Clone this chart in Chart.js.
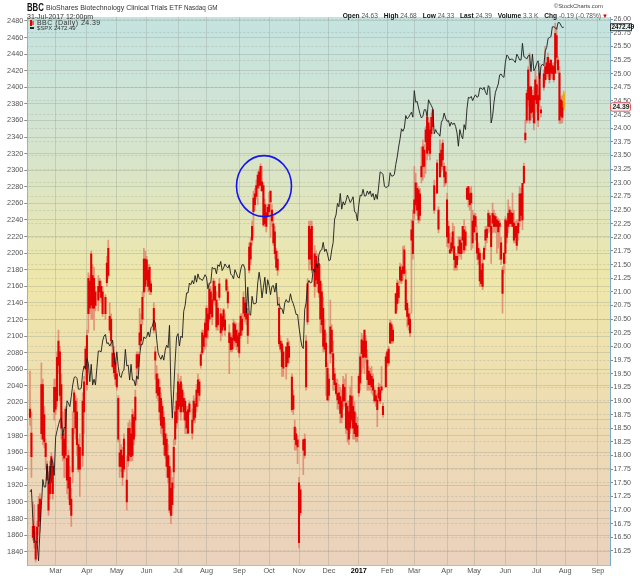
<!DOCTYPE html>
<html><head><meta charset="utf-8">
<script src="https://cdn.jsdelivr.net/npm/chart.js@4.4.1/dist/chart.umd.min.js"></script>
<style>
html,body{margin:0;padding:0;background:#fff;}
#wrap{position:relative;width:640px;height:576px;overflow:hidden;font-family:"Liberation Sans",Arial,sans-serif;}
canvas{position:absolute;left:0;top:0;}
.t{position:absolute;white-space:nowrap;line-height:1;}
.hd b{color:#111;font-weight:bold;margin-left:4px;}
.hd span{color:#555;}
</style></head><body>
<div id="wrap">
<canvas id="c" width="640" height="576"></canvas>
<div class="t" style="left:27px;top:1.5px;font-size:10.5px;font-weight:bold;color:#111;transform:scaleX(0.74);transform-origin:left top;">BBC</div>
<div class="t" style="left:46px;top:4.2px;font-size:7px;color:#333;">BioShares Biotechnology Clinical Trials ETF</div>
<div class="t" style="left:184px;top:4.6px;font-size:6.3px;color:#333;">Nasdaq GM</div>
<div class="t" style="left:27px;top:12.8px;font-size:7px;color:#333;">31-Jul-2017 12:00pm</div>
<div class="t" style="right:37px;top:3.5px;font-size:5.9px;color:#444;">©StockCharts.com</div>
<div class="t hd" style="right:32px;top:12.9px;font-size:6.6px;"><b>Open</b> <span>24.63</span> <b>High</b> <span>24.68</span> <b>Low</b> <span>24.33</span> <b>Last</b> <span>24.39</span> <b>Volume</b> <span>3.3 K</span> <b>Chg</b> <span>-0.19 (-0.78%)</span><span style="color:#d00000;font-size:6px;margin-left:1px;">▼</span></div>
<div style="position:absolute;left:30px;top:20px;width:1.5px;height:6px;background:#e00000;"></div>
<div style="position:absolute;left:32px;top:21px;width:1.5px;height:4px;background:#e86050;"></div>
<div class="t" style="left:37px;top:19.2px;font-size:7px;letter-spacing:0.45px;color:#333;">BBC (Daily) 24.39</div>
<div style="position:absolute;left:30px;top:27.3px;width:4px;height:1.3px;background:#222;"></div>
<div class="t" style="left:37px;top:25.4px;font-size:6px;color:#333;">$SPX 2472.49</div>
</div>
<script>
// Trading-day index 0 = 2016-02-03 ... index 375 = 2017-07-31
const spxClose = [
1912,1915,1880,1854,1852,1851,1829,1865,1896,1927,1918,1918,1946,1922,1929,1952,1948,1932,
1978,1986,1993,1999,2001,1980,1990,1989,2022,2019,2015,2027,2041,2050,2051,2049,2036,2036,2037,2056,2064,2060,
2073,2067,2045,2066,2041,2048,2041,2062,2082,2082,2081,2094,2100,2102,2091,2092,2088,2091,2095,2075,2065,
2081,2063,2052,2050,2057,2059,2084,2064,2065,2047,2066,2047,2047,2040,2052,2048,2076,2090,2090,2099,2097,
2099,2105,2099,2110,2112,2119,2116,2096,2080,2075,2072,2077,2071,2083,2089,2086,2113,2037,2001,2036,2071,2099,
2103,2088,2100,2098,2130,2137,2152,2152,2164,2162,2167,2163,2173,2165,2175,2169,2169,2167,2170,2174,
2171,2157,2164,2164,2183,2181,2182,2175,2186,2184,2190,2179,2182,2187,2184,2182,2186,2175,2173,2169,2180,2176,2171,
2170,2180,2186,2186,2181,2128,2159,2127,2125,2148,2139,2139,2140,2164,2177,2165,2146,2159,2171,2151,2168,
2161,2150,2160,2161,2153,2164,2137,2139,2133,2133,2127,2140,2144,2141,2141,2151,2143,2139,2133,2126,2126,
2111,2098,2088,2085,2132,2140,2163,2167,2164,2165,2181,2177,2188,2182,2198,2203,2204,2213,2202,2205,2199,
2191,2192,2204,2213,2241,2246,2260,2256,2272,2253,2262,2258,2263,2270,2266,2261,2264,2268,2250,2249,2239,
2258,2270,2269,2277,2269,2269,2275,2271,2275,2268,2272,2264,2271,2265,2281,2298,2297,2295,2281,2279,
2280,2281,2297,2293,2293,2295,2307,2316,2328,2338,2350,2347,2351,2366,2362,2364,2367,2370,2364,
2396,2382,2383,2375,2368,2363,2365,2373,2373,2365,2385,2381,2378,2374,2344,2349,2345,2344,2341,2358,2361,2369,2363,
2359,2360,2353,2358,2355,2357,2353,2345,2329,2349,2342,2338,2355,2349,2374,2388,2387,2389,2384,
2388,2391,2388,2389,2399,2399,2397,2400,2394,2391,2402,2400,2357,2365,2382,2394,2399,2404,2415,2416,2413,2412,
2430,2439,2437,2433,2434,2434,2432,2430,2440,2437,2433,2433,2453,2437,2436,2434,2438,2439,2419,2440,2420,2423,
2429,2432,2410,2425,2428,2426,2444,2448,2459,2460,2461,2473,2473,2472,2470,2478,2478,2475,2472,2472.49
];

const bbcLow = [
18.55,17.60,16.45,16.30,16.05,16.30,16.55,16.60,18.30,18.20,
18.15,17.75,17.50,16.90,17.20,17.30,17.20,18.65,18.75,18.90,
19.50,19.00,18.30,17.90,17.60,17.60,17.30,17.20,17.00,16.70,
17.50,18.40,18.30,18.00,17.70,17.25,null,17.80,18.40,19.40,
19.20,20.25,20.60,20.50,20.50,20.30,20.65,null,20.65,20.90,
20.80,20.55,null,20.50,21.10,21.25,20.25,20.00,19.60,19.45,
19.30,19.20,18.25,17.60,17.70,17.45,17.70,null,17.00,17.80,
17.90,17.90,17.90,18.20,18.35,19.30,19.50,19.95,20.00,20.40,
20.90,21.00,21.15,21.00,20.95,20.95,null,20.25,19.40,19.05,
19.00,18.65,18.40,18.35,18.00,17.95,17.60,17.50,16.95,16.75,
16.90,17.40,18.20,18.50,18.65,18.80,18.65,18.80,18.65,18.40,
18.40,18.40,18.75,null,18.30,18.60,18.60,18.80,18.90,19.00,
19.60,19.85,19.90,19.95,20.00,20.15,20.45,20.50,20.40,20.80,
20.75,20.30,20.30,20.85,20.10,20.20,20.30,20.20,21.00,20.70,
19.50,19.90,19.90,19.95,20.00,19.94,19.90,19.80,20.15,20.20,
20.50,20.45,20.40,20.05,21.35,21.50,21.85,22.00,22.50,22.70,
22.60,22.90,22.85,22.85,22.20,22.20,22.10,22.35,22.45,22.00,
22.20,21.85,21.60,21.40,21.30,20.00,19.90,19.45,19.45,null,
19.40,19.65,19.70,null,18.80,18.75,18.10,18.10,17.85,16.30,
16.90,null,17.65,17.95,19.20,20.40,21.40,21.50,21.35,null,
20.90,21.10,21.00,20.90,20.25,20.25,19.90,19.90,19.10,19.00,
19.00,19.70,19.80,19.20,19.20,19.10,18.85,18.85,18.60,18.60,
18.85,18.90,18.40,18.25,18.20,18.40,18.60,18.30,18.30,18.25,
18.25,19.08,19.20,19.50,19.60,19.50,19.70,19.20,19.20,19.20,
19.14,19.10,18.96,18.90,18.53,19.00,18.95,19.15,18.70,null,
19.26,19.63,19.65,20.06,20.05,20.06,null,20.60,20.67,20.80,
21.16,21.15,21.22,21.30,20.67,20.36,20.30,20.18,20.61,21.60,
22.32,22.56,22.40,22.26,22.30,23.00,23.05,23.10,23.17,23.42,
23.50,23.42,23.85,23.97,22.44,null,22.81,22.08,23.11,23.20,
23.24,22.93,22.95,21.83,21.80,21.71,21.70,21.71,21.40,21.40,
21.40,21.59,21.65,21.60,21.71,21.71,21.75,22.69,22.56,22.50,
21.77,21.80,22.08,21.95,21.59,21.50,21.10,21.10,21.04,21.59,
21.77,21.90,22.08,22.10,21.52,22.08,22.10,22.08,21.71,21.80,
21.59,21.50,20.61,21.34,21.52,21.90,22.08,22.20,22.20,22.20,
21.90,21.90,21.77,21.95,22.20,22.30,22.14,22.99,23.73,24.10,
24.40,24.09,24.15,24.20,23.97,24.09,24.30,24.03,24.40,24.21,
null,24.70,24.83,24.90,24.95,24.83,24.95,24.90,24.85,25.00,
25.20,25.01,24.09,24.09,24.10,24.33
];
const bbcHigh = [
19.55,18.80,17.15,17.10,16.60,16.80,17.25,17.30,19.70,19.40,
18.90,18.30,17.90,17.70,17.90,18.05,17.95,19.40,19.40,19.90,
20.30,20.00,19.50,18.80,18.40,18.90,18.00,18.10,17.80,17.40,
18.80,19.20,19.10,19.05,18.30,18.40,null,19.15,19.45,20.00,
20.30,21.35,21.30,21.75,21.50,21.45,21.10,null,21.30,21.25,
21.20,21.10,null,20.95,21.65,21.95,20.80,20.60,20.10,20.00,
19.80,19.55,19.10,18.30,18.20,18.15,18.40,null,18.00,18.60,
18.65,18.60,18.85,18.80,19.20,19.90,19.90,20.70,20.60,21.00,
21.80,21.75,21.65,21.50,21.50,21.20,null,20.80,20.00,19.65,
19.50,19.40,19.15,19.00,18.80,18.60,18.40,18.20,18.00,17.75,
17.60,18.30,18.90,19.15,19.50,19.40,19.45,19.30,19.15,19.05,
18.90,18.90,19.00,null,18.85,19.10,19.05,19.30,19.50,19.40,
19.90,20.30,20.30,20.50,20.75,20.70,21.15,21.10,20.95,21.25,
21.20,21.00,20.80,21.25,20.70,20.60,20.70,20.60,21.25,21.10,
20.40,20.25,20.20,20.50,20.45,20.43,20.30,20.43,20.60,20.60,
21.00,20.85,20.80,20.70,21.90,22.00,22.30,22.85,22.90,23.05,
23.20,23.25,23.35,23.30,23.00,22.70,22.60,22.60,22.83,22.85,
22.60,22.40,22.20,21.80,21.75,20.90,20.20,20.10,20.00,null,
20.00,20.15,20.10,null,19.50,19.20,18.65,18.50,18.35,17.60,
17.45,null,18.30,18.40,20.20,21.25,22.30,22.30,22.30,null,
21.85,21.75,21.70,21.60,21.50,21.15,20.90,20.50,20.25,19.70,
19.50,20.85,20.40,20.10,19.60,19.40,19.40,19.30,19.25,19.20,
19.45,19.40,19.50,19.00,19.00,19.26,19.45,19.10,19.00,18.78,
18.70,19.50,19.87,20.24,20.20,20.30,20.20,19.94,19.63,19.60,
19.63,19.50,19.26,19.20,19.14,19.33,19.30,19.63,18.96,null,
19.87,19.94,20.00,20.49,20.45,20.36,null,20.97,21.22,21.20,
21.53,21.50,21.83,21.85,21.40,20.85,20.70,20.61,22.32,22.50,
23.30,23.18,23.00,22.93,22.90,23.66,23.79,23.70,24.03,24.28,
24.20,24.03,24.28,24.34,23.05,null,23.42,22.56,23.79,23.70,
23.79,23.36,23.30,22.81,22.30,22.08,22.00,22.26,22.20,21.71,
21.70,22.01,22.01,22.00,22.20,22.32,22.20,22.93,22.93,22.90,
22.93,22.50,22.44,22.44,22.20,21.90,21.77,21.50,21.71,21.83,
22.20,22.20,22.50,22.45,22.32,22.63,22.50,22.44,22.38,22.35,
22.32,22.00,21.46,21.71,22.38,22.35,22.69,22.56,22.50,22.81,
22.50,22.30,22.32,22.32,22.93,22.90,22.99,23.36,24.15,24.70,
25.13,25.38,24.76,24.70,24.76,25.07,24.95,24.76,25.19,24.40,
null,25.07,25.50,25.30,25.38,25.25,25.25,25.20,25.20,25.93,
25.85,25.31,25.13,24.58,24.60,24.68
];
const bbcBodyLow = [
18.70,17.98,16.50,16.40,16.10,16.40,16.70,16.80,18.40,18.30,
18.25,17.98,17.55,17.00,17.30,17.50,17.30,18.80,18.85,19.00,
19.65,19.10,18.50,18.00,17.95,18.00,17.55,17.40,17.10,16.90,
17.70,18.80,18.50,18.20,17.75,17.75,null,18.00,18.80,19.60,
19.30,20.60,20.70,20.75,20.70,20.70,20.75,null,20.85,21.00,
20.90,20.60,null,20.60,21.17,21.30,20.30,20.10,19.63,19.52,
19.40,19.26,18.30,17.80,17.80,17.60,17.75,null,17.15,17.90,
18.00,17.98,18.00,18.30,18.65,19.60,19.63,20.03,20.10,20.50,
21.00,21.10,21.22,21.10,21.03,21.00,null,20.30,19.75,19.15,
19.10,18.80,18.55,18.50,18.20,18.00,17.80,17.60,17.00,16.90,
17.10,17.70,18.30,18.60,18.85,18.90,18.80,18.90,18.80,18.65,
18.50,18.41,18.80,null,18.41,18.65,18.70,18.90,19.15,19.10,
19.65,19.88,20.00,20.17,20.17,20.30,20.50,20.60,20.54,20.85,
20.85,20.36,20.40,20.90,20.25,20.30,20.36,20.30,21.03,20.80,
20.07,19.94,19.95,20.12,20.10,20.07,20.00,19.88,20.20,20.30,
20.61,20.55,20.50,20.20,21.40,21.60,21.95,22.47,22.60,22.75,
22.90,22.95,22.95,22.85,22.23,22.25,22.20,22.40,22.47,22.65,
22.30,21.90,21.70,21.45,21.40,20.05,19.95,19.63,19.60,null,
19.63,19.70,19.80,null,18.84,18.85,18.29,18.20,18.16,16.40,
16.95,null,18.10,18.00,19.26,20.45,21.60,21.60,21.40,null,
21.10,21.22,21.15,20.98,20.50,20.40,20.00,19.95,19.63,19.02,
19.10,19.87,19.90,19.39,19.30,19.14,19.02,18.95,18.77,18.70,
19.00,19.00,18.50,18.47,18.30,18.50,18.65,18.50,18.40,18.35,
18.35,19.15,19.33,19.87,19.80,19.81,19.80,19.39,19.30,19.30,
19.26,19.20,19.00,19.00,18.84,19.05,19.00,19.20,18.75,null,
19.26,19.70,19.70,20.06,20.10,20.10,null,20.61,20.79,20.90,
21.22,21.20,21.34,21.34,20.67,20.55,20.40,20.25,21.95,21.70,
22.44,22.60,22.50,22.32,22.40,23.11,23.30,23.30,23.75,23.54,
23.60,23.54,23.90,24.03,22.50,null,22.81,22.15,23.11,23.30,
23.42,23.11,23.00,22.01,21.90,21.71,21.75,21.80,21.59,21.45,
21.50,21.71,21.70,21.70,21.95,21.77,21.85,22.70,22.69,22.60,
22.63,21.90,22.10,22.20,21.71,21.60,21.20,21.15,21.10,21.60,
21.95,22.00,22.20,22.20,21.83,22.26,22.20,22.20,22.20,22.10,
22.20,21.60,20.97,21.52,21.71,22.00,22.20,22.25,22.25,22.20,
21.95,22.00,21.85,22.08,22.30,22.40,22.32,23.00,23.79,24.15,
24.52,24.15,24.28,24.30,24.10,24.52,24.45,24.15,24.52,24.28,
null,24.75,24.89,25.00,25.00,24.89,25.01,25.00,24.89,25.01,
25.30,25.07,24.15,24.22,24.20,24.39
];
const bbcBodyHigh = [
18.85,18.41,16.70,16.70,16.40,16.69,17.10,17.20,19.30,19.30,
18.75,18.23,17.80,17.50,17.80,17.98,17.80,19.25,19.25,19.80,
20.10,19.90,19.30,18.40,18.30,18.85,17.95,18.00,17.60,17.20,
18.50,19.15,19.00,18.80,18.20,18.15,null,19.00,19.35,19.95,
20.20,21.25,21.20,21.70,21.30,21.25,21.00,null,21.10,21.20,
21.10,21.00,null,20.90,21.53,21.80,20.55,20.50,19.88,19.88,
19.70,19.50,19.05,18.05,18.10,18.00,18.30,null,17.55,18.50,
18.50,18.40,18.75,18.70,19.07,19.85,19.85,20.25,20.40,20.90,
21.60,21.60,21.59,21.40,21.45,21.15,null,20.70,19.90,19.50,
19.40,19.25,19.05,18.90,18.70,18.40,18.30,18.00,17.80,17.40,
17.50,18.15,18.80,19.00,19.35,19.30,19.35,19.20,19.05,19.00,
18.80,18.84,18.95,null,18.65,19.00,18.95,19.20,19.39,19.35,
19.85,20.25,20.20,20.43,20.70,20.60,21.05,21.00,20.85,21.20,
21.10,20.85,20.70,21.15,20.60,20.55,20.67,20.49,21.22,21.00,
20.25,20.17,20.15,20.43,20.40,20.30,20.20,20.25,20.55,20.50,
20.90,20.80,20.70,20.60,21.82,21.90,22.20,22.72,22.80,22.95,
23.14,23.20,23.30,23.02,22.95,22.60,22.45,22.55,22.60,22.85,
22.50,22.25,22.10,21.75,21.60,20.70,20.10,20.05,19.90,null,
19.99,20.07,20.00,null,19.44,19.10,18.52,18.40,18.29,17.50,
17.37,null,18.29,18.30,20.10,21.15,22.20,22.15,22.20,null,
21.70,21.65,21.50,21.52,21.20,21.00,20.70,20.30,20.06,19.60,
19.40,20.36,20.30,19.87,19.50,19.33,19.14,19.15,19.08,19.00,
19.30,19.25,18.96,18.90,18.80,19.10,19.08,18.90,18.80,18.59,
18.55,19.45,19.81,20.12,20.10,20.30,20.10,19.75,19.55,19.50,
19.45,19.40,19.20,19.10,19.02,19.25,19.20,19.26,18.90,null,
19.81,19.90,19.95,20.43,20.40,20.30,null,20.97,21.16,21.10,
21.46,21.40,21.46,21.77,21.22,20.79,20.60,20.50,22.14,22.30,
22.69,23.00,22.90,22.87,22.80,23.30,23.66,23.60,23.97,24.21,
24.10,23.97,24.20,24.34,22.95,null,23.36,22.50,23.54,23.60,
23.73,23.30,23.20,22.69,22.20,21.77,21.90,22.10,21.83,21.65,
21.65,21.83,21.95,21.90,22.20,22.14,22.10,22.90,22.93,22.80,
22.81,22.30,22.40,22.38,22.08,21.80,21.71,21.40,21.52,21.80,
22.14,22.15,22.44,22.40,22.20,22.44,22.40,22.38,22.32,22.30,
22.26,21.90,21.40,21.71,22.32,22.30,22.44,22.50,22.45,22.44,
22.26,22.20,22.20,22.26,22.80,22.80,22.99,23.30,23.91,24.64,
25.07,24.76,24.76,24.60,24.60,24.89,24.80,24.60,25.01,24.34,
null,25.00,25.13,25.20,25.30,25.19,25.25,25.15,25.13,25.74,
25.70,25.25,25.01,24.52,24.50,24.63
];

const monthTickDay   = [18,40,61,82,104,124,147,168,189,210,231,251,270,293,312,334,356,376,399];
const monthTickLabel = ['Mar','Apr','May','Jun','Jul','Aug','Sep','Oct','Nov','Dec','2017','Feb','Mar','Apr','May','Jun','Jul','Aug','Sep'];
const spxTicks = [1840,1860,1880,1900,1920,1940,1960,1980,2000,2020,2040,2060,2080,2100,2120,2140,2160,2180,2200,2220,2240,2260,2280,2300,2320,2340,2360,2380,2400,2420,2440,2460,2480];
const bbcTicks = [16.25,16.50,16.75,17.00,17.25,17.50,17.75,18.00,18.25,18.50,18.75,19.00,19.25,19.50,19.75,20.00,20.25,20.50,20.75,21.00,21.25,21.50,21.75,22.00,22.25,22.50,22.75,23.00,23.25,23.50,23.75,24.00,24.25,24.50,24.75,25.00,25.25,25.50,25.75,26.00];
const lastSpx = 2472.49, lastBbc = 24.39;
const circleDay = 164.4, circleBbc = 22.94;

const lastIdx = bbcLow.length - 1;
const spxData = spxClose.map((v, i) => ({x: i, y: v}));
const wickData = [], bodyData = [];
for (let i = 0; i < bbcLow.length; i++) {
  if (bbcLow[i] == null) continue;
  wickData.push({x: i, y: [bbcLow[i], bbcHigh[i]]});
  bodyData.push({x: i, y: [bbcBodyLow[i], bbcBodyHigh[i]]});
}

const FONT = '"Liberation Sans", Arial, sans-serif';
const GRID = 'rgba(140,150,135,0.30)';

const bgPlugin = {
  id: 'bg',
  beforeDraw(chart) {
    const {ctx, chartArea: a} = chart;
    ctx.save();
    ctx.fillStyle = '#ffffff';
    ctx.fillRect(0, 0, chart.width, chart.height);
    const g = ctx.createLinearGradient(0, a.top, 0, a.bottom);
    g.addColorStop(0, '#c4e3e0');
    g.addColorStop(0.22, '#d4e4cf');
    g.addColorStop(0.48, '#efe7aa');
    g.addColorStop(0.72, '#eedcb2');
    g.addColorStop(1, '#ead1bd');
    ctx.fillStyle = g;
    ctx.fillRect(a.left, a.top, a.right - a.left, a.bottom - a.top);
    ctx.restore();
  }
};

const annoPlugin = {
  id: 'anno',
  afterDatasetsDraw(chart) {
    const {ctx, scales: {x, y1}} = chart;
    ctx.save();
    ctx.beginPath();
    ctx.ellipse(x.getPixelForValue(circleDay), y1.getPixelForValue(circleBbc), 27.5, 30.5, 0, 0, Math.PI * 2);
    ctx.strokeStyle = '#1414ee';
    ctx.lineWidth = 1.6;
    ctx.stroke();
    ctx.restore();
  },
  afterDraw(chart) {
    const {ctx, chartArea: a, scales: {y, y1}} = chart;
    ctx.save();
    let yy = y.getPixelForValue(lastSpx);
    ctx.fillStyle = '#e8f4f2';
    ctx.fillRect(a.right, yy - 4, 22, 8);
    ctx.strokeStyle = '#2a3a3a';
    ctx.lineWidth = 1;
    ctx.strokeRect(a.right + 0.5, yy - 3.5, 21, 7);
    ctx.fillStyle = '#111';
    ctx.font = 'bold 6.3px ' + FONT;
    ctx.textBaseline = 'middle';
    ctx.textAlign = 'left';
    ctx.fillText(lastSpx.toFixed(2), a.right + 1.5, yy + 0.3);
    yy = y1.getPixelForValue(lastBbc);
    ctx.fillStyle = '#f8f2f4';
    ctx.beginPath();
    if (ctx.roundRect) ctx.roundRect(a.right + 0.5, yy - 4.2, 20, 8.4, 2); else ctx.rect(a.right + 0.5, yy - 4.2, 20, 8.4);
    ctx.fill();
    ctx.strokeStyle = '#e05a5a';
    ctx.stroke();
    ctx.fillStyle = '#222';
    ctx.font = 'bold 6.8px ' + FONT;
    ctx.fillText(lastBbc.toFixed(2), a.right + 2.5, yy + 0.3);
    ctx.restore();
  }
};

new Chart(document.getElementById('c'), {
  type: 'bar',
  data: {
    datasets: [
      {type: 'line', label: '$SPX', data: spxData, yAxisID: 'y', borderColor: '#1c1c1c', borderWidth: 0.9,
       pointRadius: 0, tension: 0, order: 0},
      {label: 'BBC body', data: bodyData, yAxisID: 'y1', grouped: false, barThickness: 1.4, borderWidth: 0,
       backgroundColor: c => (c.raw && c.raw.x === lastIdx) ? '#f2a400' : '#e30000', order: 1},
      {label: 'BBC range', data: wickData, yAxisID: 'y1', grouped: false, barThickness: 1, borderWidth: 0,
       backgroundColor: c => (c.raw && c.raw.x === lastIdx) ? '#f2b000' : 'rgba(226,120,100,0.75)', order: 2}
    ]
  },
  options: {
    responsive: false,
    animation: false,
    events: [],
    layout: {padding: {top: 17, left: 0, right: 0, bottom: 0}},
    plugins: {legend: {display: false}, tooltip: {enabled: false}},
    scales: {
      x: {
        type: 'linear', min: -1.9, max: 407.5, offset: false,
        grid: {offset: false, color: GRID, tickLength: 1, tickColor: 'rgba(0,0,0,0)'},
        border: {display: true, color: '#b4bcc8'},
        afterBuildTicks: s => { s.ticks = monthTickDay.map(v => ({value: v})); },
        afterFit: s => { s.height = 10.3; },
        ticks: {
          autoSkip: false, maxRotation: 0, minRotation: 0, padding: 0,
          font: c => ({family: FONT, size: 7.3, weight: (c.tick && c.tick.label === '2017') ? 'bold' : 'normal'}),
          color: c => (c.tick && c.tick.label === '2017') ? '#000' : '#555',
          callback: v => { const k = monthTickDay.indexOf(v); return k >= 0 ? monthTickLabel[k] : ''; }
        }
      },
      y: {
        type: 'linear', position: 'left', min: 1823.1, max: 2484.8,
        grid: {color: GRID, tickLength: 3, tickColor: '#8a8a8a'},
        border: {display: true, color: '#9fb0c4'},
        afterBuildTicks: s => { s.ticks = spxTicks.map(v => ({value: v})); },
        afterFit: s => { s.width = 27.3; },
        ticks: {padding: 1, font: {family: FONT, size: 7.3}, color: '#555', callback: v => String(v)}
      },
      y1: {
        type: 'linear', position: 'right', min: 15.98, max: 26.04,
        grid: {color: GRID, tickLength: 3, tickColor: '#8a8a8a'},
        border: {display: true, color: '#78aacb', dash: [2, 2]},
        afterBuildTicks: s => { s.ticks = bbcTicks.map(v => ({value: v})); },
        afterFit: s => { s.width = 30; },
        ticks: {padding: 0.5, font: {family: FONT, size: 7}, color: '#555', callback: v => Number(v).toFixed(2)}
      }
    }
  },
  plugins: [bgPlugin, annoPlugin]
});
</script>
</body></html>
